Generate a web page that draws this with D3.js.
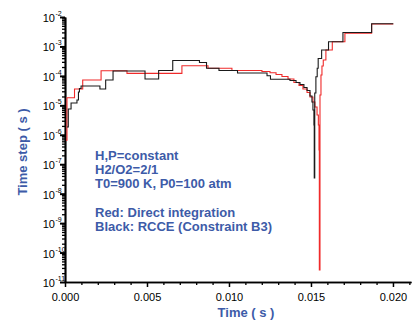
<!DOCTYPE html>
<html><head><meta charset="utf-8">
<script src="https://cdn.jsdelivr.net/npm/d3@7"></script>
<style>body{margin:0;background:#fff}</style>
</head><body><svg id="c" width="417" height="322"></svg>
<script>
// Red: direct integration (time s, time step s) – step-after points
const redTime = [0.00006,0.00012,0.00058,0.00108,0.00220,0.00378,0.00713,0.00872,0.01018,0.01201,0.01250,0.01287,0.01323,0.01360,0.01396,0.01427,0.01451,0.01476,0.01494,0.01512,0.01524,0.01537,0.01545,0.01549,0.01551,0.01555,0.01561,0.01567,0.01575,0.01591,0.01630,0.01707,0.01870,0.02002];
const redStep = [6.6e-7,1.82e-5,3.58e-5,7.24e-5,1.50e-4,1.22e-4,2.22e-4,1.81e-4,1.52e-4,1.41e-4,1.28e-4,1.11e-4,9.53e-5,7.83e-5,5.96e-5,4.71e-5,3.58e-5,2.72e-5,1.92e-5,1.30e-5,8.77e-6,4.69e-6,2.15e-6,3.03e-7,2.55e-11,2.24e-5,1.07e-4,2.17e-4,3.46e-4,7.57e-4,1.45e-3,2.79e-3,5.78e-3,5.78e-3];
// Black: RCCE (Constraint B3)
const blackTime = [0.00012,0.00020,0.00037,0.00073,0.00082,0.00088,0.00098,0.00213,0.00248,0.00293,0.00488,0.00571,0.00657,0.00820,0.00863,0.00939,0.01052,0.01232,0.01253,0.01372,0.01409,0.01433,0.01457,0.01476,0.01494,0.01506,0.01512,0.01518,0.01520,0.01523,0.01530,0.01538,0.01544,0.01565,0.01607,0.01695,0.01870,0.02002];
const blackStep = [1.84e-6,7.5e-6,1.2e-5,1.52e-5,2.83e-5,3.72e-5,4.53e-5,3.58e-5,7.24e-5,1.47e-4,7.83e-5,1.52e-4,3.33e-4,2.85e-4,1.81e-4,1.52e-4,1.25e-4,1.01e-4,7.65e-5,6.97e-5,5.96e-5,5.09e-5,4.03e-5,3.18e-5,2.07e-5,1.30e-5,6.93e-6,2.15e-6,3.4e-8,2.62e-5,9.38e-5,1.81e-4,3.89e-4,7.57e-4,1.45e-3,2.97e-3,5.92e-3,5.92e-3];

const xMajorTicks = [0,0.005,0.010,0.015,0.020];
const xTickLabels = ["0.000","0.005","0.010","0.015","0.020"];
const yExponents = [-11,-10,-9,-8,-7,-6,-5,-4,-3,-2];
const annotation = ["H,P=constant","H2/O2=2/1","T0=900 K, P0=100 atm","","Red: Direct integration","Black: RCCE (Constraint B3)"];

const svg = d3.select("#c");
const blue = "#3d5ba8";
const x = d3.scaleLinear().domain([0,0.0211]).range([65,411]);
const y = d3.scaleLog().domain([1e-11,1e-2]).range([282,17]);

// minor ticks
const xMinor = d3.range(0,22).map(i=>i*0.001).filter(v=>Math.abs(v/0.005-Math.round(v/0.005))>1e-6);
const yMinor = [];
yExponents.slice(0,-1).forEach(e=>{for(let m=2;m<=9;m++) yMinor.push(m*Math.pow(10,e));});

function styleAxis(g,w){g.select(".domain").attr("stroke","#000").attr("stroke-width",w);g.selectAll(".tick line").attr("stroke","#000").attr("stroke-width",w);}

svg.append("g").attr("transform","translate(0,282)")
  .call(d3.axisBottom(x).tickValues(xMinor).tickSize(3).tickFormat("").tickSizeOuter(0))
  .call(g=>styleAxis(g,1.3));
svg.append("g").attr("transform","translate(0,282)")
  .call(d3.axisBottom(x).tickValues(xMajorTicks).tickSize(5).tickFormat((d,i)=>xTickLabels[i]).tickSizeOuter(0))
  .call(g=>styleAxis(g,1.5))
  .call(g=>g.selectAll(".tick text").attr("font-family","Liberation Sans, Arial, sans-serif").attr("font-size",11).attr("fill","#000").attr("dy","1.0em"));

svg.append("g").attr("transform","translate(65,0)")
  .call(d3.axisLeft(y).tickValues(yMinor).tickSize(3).tickFormat("").tickSizeOuter(0))
  .call(g=>styleAxis(g,1.3));
svg.append("g").attr("transform","translate(65,0)")
  .call(d3.axisLeft(y).tickValues(yExponents.map(e=>Math.pow(10,e))).tickSize(5).tickFormat("").tickSizeOuter(0))
  .call(g=>styleAxis(g,2));

// y tick labels 10^e
yExponents.forEach(e=>{
  const t = svg.append("text").attr("x",55).attr("y",y(Math.pow(10,e))+5)
    .attr("text-anchor","end").attr("font-family","Liberation Sans, Arial, sans-serif").attr("font-size",11).attr("fill","#000");
  t.append("tspan").text("10");
  svg.append("text").attr("x",55.5).attr("y",y(Math.pow(10,e))-1).attr("font-family","Liberation Sans, Arial, sans-serif")
    .attr("font-size",7).attr("fill","#000").text(String(e).replace("-","-"));
});

// curves
const line = d3.line().x((d)=>x(d[0])).y(d=>y(d[1])).curve(d3.curveStepAfter);
svg.append("path").datum(redTime.map((t,i)=>[t,redStep[i]])).attr("d",line)
  .attr("fill","none").attr("stroke","#f02a2a").attr("stroke-width",1.1);
svg.append("path").datum(blackTime.map((t,i)=>[t,blackStep[i]])).attr("d",line)
  .attr("fill","none").attr("stroke","#1a1a1a").attr("stroke-width",1.1);

// axis titles
svg.append("text").attr("transform","translate(27,152) rotate(-90)").attr("text-anchor","middle")
  .attr("font-family","Liberation Sans, Arial, sans-serif").attr("font-weight","bold").attr("font-size",13).attr("fill",blue).text("Time step ( s )");
svg.append("text").attr("x",246).attr("y",317).attr("text-anchor","middle")
  .attr("font-family","Liberation Sans, Arial, sans-serif").attr("font-weight","bold").attr("font-size",13).attr("fill",blue).text("Time ( s )");

// annotation
annotation.forEach((s,i)=>{
  if(!s) return;
  svg.append("text").attr("x",95).attr("y",160+i*14.2)
    .attr("font-family","Liberation Sans, Arial, sans-serif").attr("font-weight","bold").attr("font-size",13).attr("fill",blue).text(s);
});
</script></body></html>
